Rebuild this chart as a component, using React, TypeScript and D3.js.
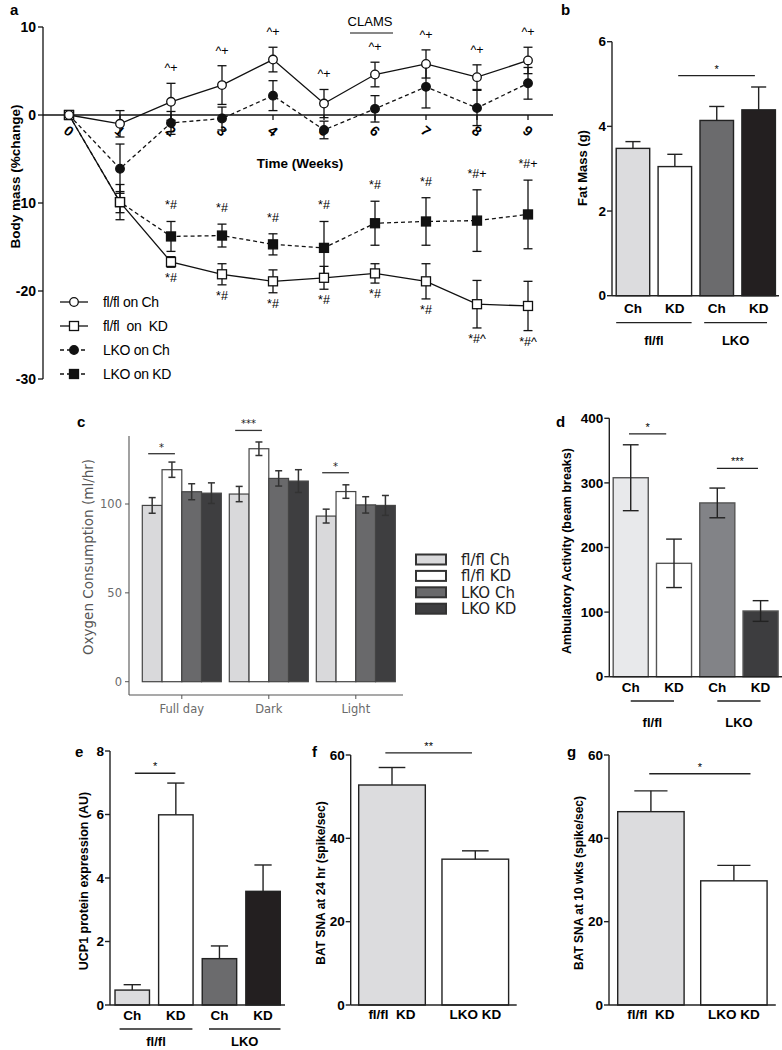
import React from 'react';
import * as d3 from 'd3';

// ---------- Panel a: body mass (% change) ----------
const weeks = [0, 1, 2, 3, 4, 5, 6, 7, 8, 9];
const flflCh = [0, -1.0, 1.5, 3.4, 6.3, 1.3, 4.6, 5.8, 4.3, 6.2];
const flflChErr = [0, 1.5, 2.1, 2.2, 1.4, 1.6, 1.4, 1.6, 1.4, 1.5];
const lkoCh = [0, -6.1, -0.9, -0.4, 2.2, -1.7, 0.7, 3.2, 0.8, 3.6];
const lkoChErr = [0, 2.8, 1.3, 1.3, 1.7, 1.0, 1.5, 2.4, 2.0, 1.8];
const flflKD = [0, -9.9, -16.7, -18.1, -18.9, -18.5, -18.0, -18.9, -21.5, -21.7];
const flflKDErr = [0, 1.2, 0.6, 1.2, 1.3, 1.3, 1.1, 2.0, 2.7, 2.8];
const lkoKD = [0, -9.9, -13.8, -13.7, -14.7, -15.1, -12.3, -12.1, -12.0, -11.3];
const lkoKDErr = [0, 2.0, 1.7, 1.3, 1.2, 3.0, 2.5, 2.7, 3.5, 3.9];
const annFlflCh = ['', '', '^+', '^+', '^+', '^+', '^+', '^+', '^+', '^+'];
const annLkoKD = ['', '', '*#', '*#', '*#', '*#', '*#', '*#', '*#+', '*#+'];
const annFlflKD = ['', '', '*#', '*#', '*#', '*#', '*#', '*#', '*#^', '*#^'];
const bodyTicks = [10, 0, -10, -20, -30];

// ---------- Panel b: fat mass ----------
const groupCats = ['fl/fl Ch', 'fl/fl KD', 'LKO Ch', 'LKO KD'];
const dietLabels = ['Ch', 'KD', 'Ch', 'KD'];
const fatMass = [3.48, 3.05, 4.14, 4.39];
const fatMassErr = [0.16, 0.29, 0.33, 0.54];

// ---------- Panel c: oxygen consumption ----------
const o2Periods = ['Full day', 'Dark', 'Light'];
const o2Mean = [
  [99.2, 119.3, 106.9, 106.1],
  [105.6, 131.1, 114.4, 112.9],
  [93.2, 107.0, 99.5, 99.2],
];
const o2Err = [
  [4.4, 4.3, 4.5, 5.8],
  [4.3, 3.8, 4.3, 6.4],
  [3.9, 3.8, 4.6, 5.6],
];
const o2Ticks = [0, 50, 100];

// ---------- Panel d: ambulatory activity ----------
const activity = [308, 175.5, 269, 101.7];
const activityErr = [51, 37.5, 23, 16];

// ---------- Panel e: UCP1 ----------
const ucp1 = [0.47, 5.99, 1.46, 3.58];
const ucp1Err = [0.17, 1.0, 0.4, 0.83];

// ---------- Panels f, g: BAT SNA ----------
const kdCats = ['fl/fl\u00a0\u00a0KD', 'LKO KD'];
const bat24 = [52.8, 35.0];
const bat24Err = [4.2, 2.0];
const bat10 = [46.4, 29.8];
const bat10Err = [5.0, 3.7];

const ARIAL = "'Liberation Sans', Arial, sans-serif";
const DEJAVU = "'DejaVu Sans', Verdana, sans-serif";

function PanelA() {
  const x = d3.scaleLinear().domain([0, 9]).range([69, 528]);
  const y = d3.scaleLinear().domain([-30, 10]).range([379, 27]);
  const series = [
    { name: 'fl/fl on Ch', vals: flflCh, err: flflChErr, marker: 'circle', fill: '#fff', dash: undefined },
    { name: 'fl/fl\u00a0\u00a0on\u00a0\u00a0KD', vals: flflKD, err: flflKDErr, marker: 'square', fill: '#fff', dash: undefined },
    { name: 'LKO on Ch', vals: lkoCh, err: lkoChErr, marker: 'circle', fill: '#111', dash: '4,3' },
    { name: 'LKO on KD', vals: lkoKD, err: lkoKDErr, marker: 'square', fill: '#111', dash: '4,3' },
  ];
  const drawOrder = [2, 3, 1, 0];
  const line = d3.line<number>().x((_, i) => x(weeks[i])).y((d) => y(d));
  const mk = (type: string, cx: number, cy: number, fill: string, key: string) =>
    type === 'circle' ? (
      <circle key={key} cx={cx} cy={cy} r={4.3} fill={fill} stroke="#111" strokeWidth={1.3} />
    ) : (
      <rect key={key} x={cx - 4.5} y={cy - 4.5} width={9} height={9} fill={fill} stroke="#111" strokeWidth={1.3} />
    );
  return (
    <g>
      <text x={10} y={15} fontFamily={ARIAL} fontWeight="bold" fontSize={15}>a</text>
      <line x1={43} x2={43} y1={y(10)} y2={y(-30)} stroke="#111" strokeWidth={1.3} />
      {bodyTicks.map((t) => (
        <g key={t}>
          <line x1={38} x2={43} y1={y(t)} y2={y(t)} stroke="#111" strokeWidth={1.3} />
          <text x={36} y={y(t)} dy="0.35em" textAnchor="end" fontFamily={ARIAL} fontWeight="bold" fontSize={14}>{t}</text>
        </g>
      ))}
      <text transform={`translate(15,${y(-7)}) rotate(-90)`} dy="0.35em" textAnchor="middle" fontFamily={ARIAL} fontWeight="bold" fontSize={13.5}>Body mass (%change)</text>
      <line x1={43} x2={553} y1={y(0)} y2={y(0)} stroke="#111" strokeWidth={1.3} />
      {weeks.map((w) => (
        <g key={w}>
          <line x1={x(w)} x2={x(w)} y1={y(0)} y2={y(0) + 5} stroke="#111" strokeWidth={1.3} />
          <text transform={`translate(${x(w)},${y(0) + 16}) rotate(40)`} dy="0.35em" textAnchor="middle" fontFamily={ARIAL} fontWeight="bold" fontSize={14}>{w}</text>
        </g>
      ))}
      <text x={300} y={168} textAnchor="middle" fontFamily={ARIAL} fontWeight="bold" fontSize={13.5}>Time (Weeks)</text>
      <text x={370} y={26} textAnchor="middle" fontFamily={ARIAL} fontSize={13}>CLAMS</text>
      <line x1={350} x2={393} y1={33} y2={33} stroke="#111" strokeWidth={1.2} />
      {drawOrder.map((si) => {
        const s = series[si];
        return <path key={'l' + si} d={line(s.vals) || ''} fill="none" stroke="#111" strokeWidth={1.3} strokeDasharray={s.dash} />;
      })}
      {drawOrder.map((si) => {
        const s = series[si];
        return s.vals.map((v, i) =>
          s.err[i] > 0 ? (
            <g key={'e' + si + '-' + i} stroke="#111" strokeWidth={1.3}>
              <line x1={x(weeks[i])} x2={x(weeks[i])} y1={y(v + s.err[i])} y2={y(v - s.err[i])} />
              <line x1={x(weeks[i]) - 4.5} x2={x(weeks[i]) + 4.5} y1={y(v + s.err[i])} y2={y(v + s.err[i])} />
              <line x1={x(weeks[i]) - 4.5} x2={x(weeks[i]) + 4.5} y1={y(v - s.err[i])} y2={y(v - s.err[i])} />
            </g>
          ) : null
        );
      })}
      {drawOrder.map((si) => {
        const s = series[si];
        return s.vals.map((v, i) => mk(s.marker, x(weeks[i]), y(v), s.fill, 'm' + si + '-' + i));
      })}
      {weeks.map((w, i) => (
        <g key={'a' + i} fontFamily={ARIAL} fontSize={12.5} textAnchor="middle">
          {annFlflCh[i] && <text x={x(w)} y={y(flflCh[i] + flflChErr[i]) - 11}>{annFlflCh[i]}</text>}
          {annLkoKD[i] && <text x={x(w)} y={y(lkoKD[i] + lkoKDErr[i]) - 12}>{annLkoKD[i]}</text>}
          {annFlflKD[i] && <text x={x(w)} y={y(flflKD[i] - flflKDErr[i]) + 15}>{annFlflKD[i]}</text>}
        </g>
      ))}
      {series.map((s, i) => {
        const ly = 302 + i * 24;
        return (
          <g key={'lg' + i}>
            <line x1={60} x2={88} y1={ly} y2={ly} stroke="#111" strokeWidth={1.3} strokeDasharray={s.dash} />
            {mk(s.marker, 74, ly, s.fill, 'lm' + i)}
            <text x={103} y={ly} dy="0.35em" fontFamily={ARIAL} fontSize={14} letterSpacing={-0.3}>{s.name}</text>
          </g>
        );
      })}
    </g>
  );
}

type BarCfg = {
  letter: string; letterX: number; letterY: number;
  cats: string[]; labels: string[]; vals: number[]; errs: number[]; colors: string[];
  r0: number; r1: number; pi: number; po: number;
  yMax: number; yTopPx: number; yBotPx: number; ticks: number[];
  barStroke: string; errBoth: boolean; capFrac: number;
  labelY: number; ylabel: string; ylabelX: number; ylabelY: number; ylabelSize: number;
  axisEnd: number;
  sigs: { a: number; b: number; y: number; t: string }[];
  groups?: { a: number; b: number; t: string }[]; groupLineY?: number; groupLabelY?: number;
};

function BarPanel({ c }: { c: BarCfg }) {
  const xb = d3.scaleBand<string>().domain(c.cats).range([c.r0, c.r1]).paddingInner(c.pi).paddingOuter(c.po);
  const y = d3.scaleLinear().domain([0, c.yMax]).range([c.yBotPx, c.yTopPx]);
  const bw = xb.bandwidth();
  const step = xb.step();
  const c0 = (xb(c.cats[0]) || 0) + bw / 2;
  const fx = (f: number) => c0 + f * step;
  const cap = bw * c.capFrac;
  return (
    <g fontFamily={ARIAL}>
      <text x={c.letterX} y={c.letterY} fontWeight="bold" fontSize={15}>{c.letter}</text>
      <text transform={`translate(${c.ylabelX},${c.ylabelY}) rotate(-90)`} dy="0.35em" textAnchor="middle" fontWeight="bold" fontSize={c.ylabelSize}>{c.ylabel}</text>
      {c.cats.map((k, i) => {
        const bx = xb(k) || 0;
        const cx = bx + bw / 2;
        const v = c.vals[i];
        const e = c.errs[i];
        return (
          <g key={k}>
            <rect x={bx} y={y(v)} width={bw} height={y(0) - y(v)} fill={c.colors[i]} stroke={c.barStroke} strokeWidth={1.4} />
            <g stroke="#222" strokeWidth={1.4}>
              <line x1={cx} x2={cx} y1={y(v + e)} y2={c.errBoth ? y(v - e) : y(v)} />
              <line x1={cx - cap / 2} x2={cx + cap / 2} y1={y(v + e)} y2={y(v + e)} />
              {c.errBoth && <line x1={cx - cap / 2} x2={cx + cap / 2} y1={y(v - e)} y2={y(v - e)} />}
            </g>
            <text x={cx} y={c.labelY} textAnchor="middle" fontWeight="bold" fontSize={13.5}>{c.labels[i]}</text>
          </g>
        );
      })}
      <line x1={c.r0} x2={c.r0} y1={y(c.yMax)} y2={y(0)} stroke="#222" strokeWidth={1.4} />
      <line x1={c.r0} x2={c.axisEnd} y1={y(0)} y2={y(0)} stroke="#222" strokeWidth={1.4} />
      {c.ticks.map((t) => (
        <g key={t}>
          <line x1={c.r0 - 5} x2={c.r0} y1={y(t)} y2={y(t)} stroke="#222" strokeWidth={1.4} />
          <text x={c.r0 - 6} y={y(t)} dy="0.35em" textAnchor="end" fontWeight="bold" fontSize={13.5}>{t}</text>
        </g>
      ))}
      {c.sigs.map((s, i) => (
        <g key={'s' + i}>
          <line x1={fx(s.a)} x2={fx(s.b)} y1={y(s.y)} y2={y(s.y)} stroke="#222" strokeWidth={1.3} />
          <text x={(fx(s.a) + fx(s.b)) / 2} y={y(s.y) - 3} textAnchor="middle" fontSize={11}>{s.t}</text>
        </g>
      ))}
      {c.groups && c.groups.map((g, i) => (
        <g key={'g' + i}>
          <line x1={fx(g.a)} x2={fx(g.b)} y1={c.groupLineY} y2={c.groupLineY} stroke="#222" strokeWidth={1.3} />
          <text x={(fx(g.a) + fx(g.b)) / 2} y={c.groupLabelY} textAnchor="middle" fontWeight="bold" fontSize={13}>{g.t}</text>
        </g>
      ))}
    </g>
  );
}

const grey4 = ['#dcdcde', '#ffffff', '#6b6b6d', '#231f20'];

function PanelC() {
  const xp = d3.scalePoint<string>().domain(o2Periods).range([181.8, 355.8]);
  const xi = d3.scaleBand<string>().domain(groupCats).range([-39.5, 39.5]);
  const y = d3.scaleLinear().domain([0, 100]).range([681.7, 504]);
  const bw = xi.bandwidth();
  const cols = ['#d9d9db', '#ffffff', '#69696b', '#3e3e40'];
  const sigs = [
    { p: 0, y: 128.3, t: '*' },
    { p: 1, y: 141.4, t: '***' },
    { p: 2, y: 117.6, t: '*' },
  ];
  return (
    <g fontFamily={DEJAVU}>
      <text x={77} y={427} fontFamily={ARIAL} fontWeight="bold" fontSize={15}>c</text>
      <line x1={129} x2={129} y1={436} y2={695} stroke="#555" strokeWidth={1.1} />
      <line x1={129} x2={403} y1={695} y2={695} stroke="#555" strokeWidth={1.1} />
      {o2Ticks.map((t) => (
        <g key={t}>
          <line x1={125} x2={129} y1={y(t)} y2={y(t)} stroke="#555" strokeWidth={1} />
          <text x={122} y={y(t)} dy="0.35em" textAnchor="end" fontSize={11.5} fill="#6a6a6a">{t}</text>
        </g>
      ))}
      <text transform={`translate(88,557) rotate(-90)`} dy="0.35em" textAnchor="middle" fontSize={13.5} fill="#555">Oxygen Consumption (ml/hr)</text>
      {o2Periods.map((p, pi) => (
        <g key={p}>
          <line x1={xp(p)} x2={xp(p)} y1={695} y2={699} stroke="#555" strokeWidth={1} />
          <text x={xp(p)} y={713} textAnchor="middle" fontSize={11.5} fill="#6a6a6a">{p}</text>
          {groupCats.map((g, gi) => {
            const bx = (xp(p) || 0) + (xi(g) || 0);
            const v = o2Mean[pi][gi];
            const e = o2Err[pi][gi];
            const cx = bx + bw / 2;
            return (
              <g key={g}>
                <rect x={bx} y={y(v)} width={bw} height={y(0) - y(v)} fill={cols[gi]} stroke="#444" strokeWidth={1.2} />
                <g stroke="#333" strokeWidth={1.5}>
                  <line x1={cx} x2={cx} y1={y(v + e)} y2={y(v - e)} />
                  <line x1={cx - 3.5} x2={cx + 3.5} y1={y(v + e)} y2={y(v + e)} />
                  <line x1={cx - 3.5} x2={cx + 3.5} y1={y(v - e)} y2={y(v - e)} />
                </g>
              </g>
            );
          })}
        </g>
      ))}
      {sigs.map((s, i) => {
        const p = o2Periods[s.p];
        const a = (xp(p) || 0) + (xi(groupCats[0]) || 0) + bw / 2 - 4;
        const b = (xp(p) || 0) + (xi(groupCats[1]) || 0) + bw / 2 + 3;
        return (
          <g key={'s' + i}>
            <line x1={a} x2={b} y1={y(s.y)} y2={y(s.y)} stroke="#333" strokeWidth={1.3} />
            <text x={(a + b) / 2} y={y(s.y) - 3} textAnchor="middle" fontSize={10} fill="#222">{s.t}</text>
          </g>
        );
      })}
      {groupCats.map((g, i) => {
        const ly = 559.5 + i * 16.4;
        return (
          <g key={'lg' + i}>
            <rect x={416} y={ly - 5} width={30} height={10} fill={cols[i]} stroke="#333" strokeWidth={2} />
            <text x={461} y={ly} dy="0.36em" fontSize={15} fill="#222">{g}</text>
          </g>
        );
      })}
    </g>
  );
}

const cfgB: BarCfg = {
  letter: 'b', letterX: 561, letterY: 15,
  cats: groupCats, labels: dietLabels, vals: fatMass, errs: fatMassErr, colors: grey4,
  r0: 612, r1: 779.6, pi: 0.2, po: 0.1,
  yMax: 6, yTopPx: 41.7, yBotPx: 295.7, ticks: [0, 2, 4, 6],
  barStroke: '#222', errBoth: false, capFrac: 0.45,
  labelY: 313, ylabel: 'Fat Mass (g)', ylabelX: 582, ylabelY: 168, ylabelSize: 13,
  axisEnd: 779,
  sigs: [{ a: 1.08, b: 2.91, y: 5.2, t: '*' }],
  groups: [{ a: -0.4, b: 1.4, t: 'fl/fl' }, { a: 1.7, b: 3.2, t: 'LKO' }], groupLineY: 322.7, groupLabelY: 345,
};

const cfgD: BarCfg = {
  letter: 'd', letterX: 556, letterY: 427,
  cats: groupCats, labels: dietLabels, vals: activity, errs: activityErr,
  colors: ['#e8e9eb', '#ffffff', '#828387', '#3d3d3f'],
  r0: 609.3, r1: 782, pi: 0.19, po: 0.09,
  yMax: 400, yTopPx: 418.3, yBotPx: 676.7, ticks: [0, 100, 200, 300, 400],
  barStroke: '#555', errBoth: true, capFrac: 0.45,
  labelY: 692, ylabel: 'Ambulatory Activity (beam breaks)', ylabelX: 567, ylabelY: 551, ylabelSize: 12.5,
  axisEnd: 782,
  sigs: [{ a: -0.04, b: 0.82, y: 376, t: '*' }, { a: 1.99, b: 2.94, y: 322.6, t: '***' }],
  groups: [{ a: 0, b: 1, t: 'fl/fl' }, { a: 2, b: 3, t: 'LKO' }], groupLineY: 701, groupLabelY: 727,
};

const cfgE: BarCfg = {
  letter: 'e', letterX: 75, letterY: 757,
  cats: groupCats, labels: dietLabels, vals: ucp1, errs: ucp1Err, colors: grey4,
  r0: 110, r1: 285.3, pi: 0.21, po: 0.115,
  yMax: 8, yTopPx: 751, yBotPx: 1005, ticks: [0, 2, 4, 6, 8],
  barStroke: '#222', errBoth: false, capFrac: 0.5,
  labelY: 1020, ylabel: 'UCP1 protein expression (AU)', ylabelX: 84, ylabelY: 881, ylabelSize: 12.5,
  axisEnd: 285,
  sigs: [{ a: 0.06, b: 0.99, y: 7.3, t: '*' }],
  groups: [{ a: -0.29, b: 1.38, t: 'fl/fl' }, { a: 1.76, b: 3.4, t: 'LKO' }], groupLineY: 1029, groupLabelY: 1046,
};

const cfgF: BarCfg = {
  letter: 'f', letterX: 312, letterY: 757,
  cats: kdCats, labels: kdCats, vals: bat24, errs: bat24Err, colors: ['#dcdcde', '#ffffff'],
  r0: 350.7, r1: 516.6, pi: 0.2, po: 0.096,
  yMax: 60, yTopPx: 755, yBotPx: 1005, ticks: [0, 20, 40, 60],
  barStroke: '#222', errBoth: false, capFrac: 0.4,
  labelY: 1019, ylabel: 'BAT SNA at 24 hr (spike/sec)', ylabelX: 321, ylabelY: 883, ylabelSize: 12,
  axisEnd: 516.7,
  sigs: [{ a: -0.08, b: 0.96, y: 60.5, t: '**' }],
};

const cfgG: BarCfg = {
  letter: 'g', letterX: 567, letterY: 757,
  cats: kdCats, labels: kdCats, vals: bat10, errs: bat10Err, colors: ['#dcdcde', '#ffffff'],
  r0: 609, r1: 775.8, pi: 0.2, po: 0.105,
  yMax: 60, yTopPx: 755, yBotPx: 1005, ticks: [0, 20, 40, 60],
  barStroke: '#222', errBoth: false, capFrac: 0.5,
  labelY: 1019, ylabel: 'BAT SNA at 10 wks (spike/sec)', ylabelX: 579, ylabelY: 883, ylabelSize: 12,
  axisEnd: 775.8,
  sigs: [{ a: -0.02, b: 1.2, y: 55.5, t: '*' }],
};

export default function App() {
  return (
    <svg width={782} height={1050} viewBox="0 0 782 1050" style={{ position: 'absolute', left: 0, top: 0, background: '#fff' }}>
      <rect width={782} height={1050} fill="#fff" />
      <PanelA />
      <BarPanel c={cfgB} />
      <PanelC />
      <BarPanel c={cfgD} />
      <BarPanel c={cfgE} />
      <BarPanel c={cfgF} />
      <BarPanel c={cfgG} />
    </svg>
  );
}
